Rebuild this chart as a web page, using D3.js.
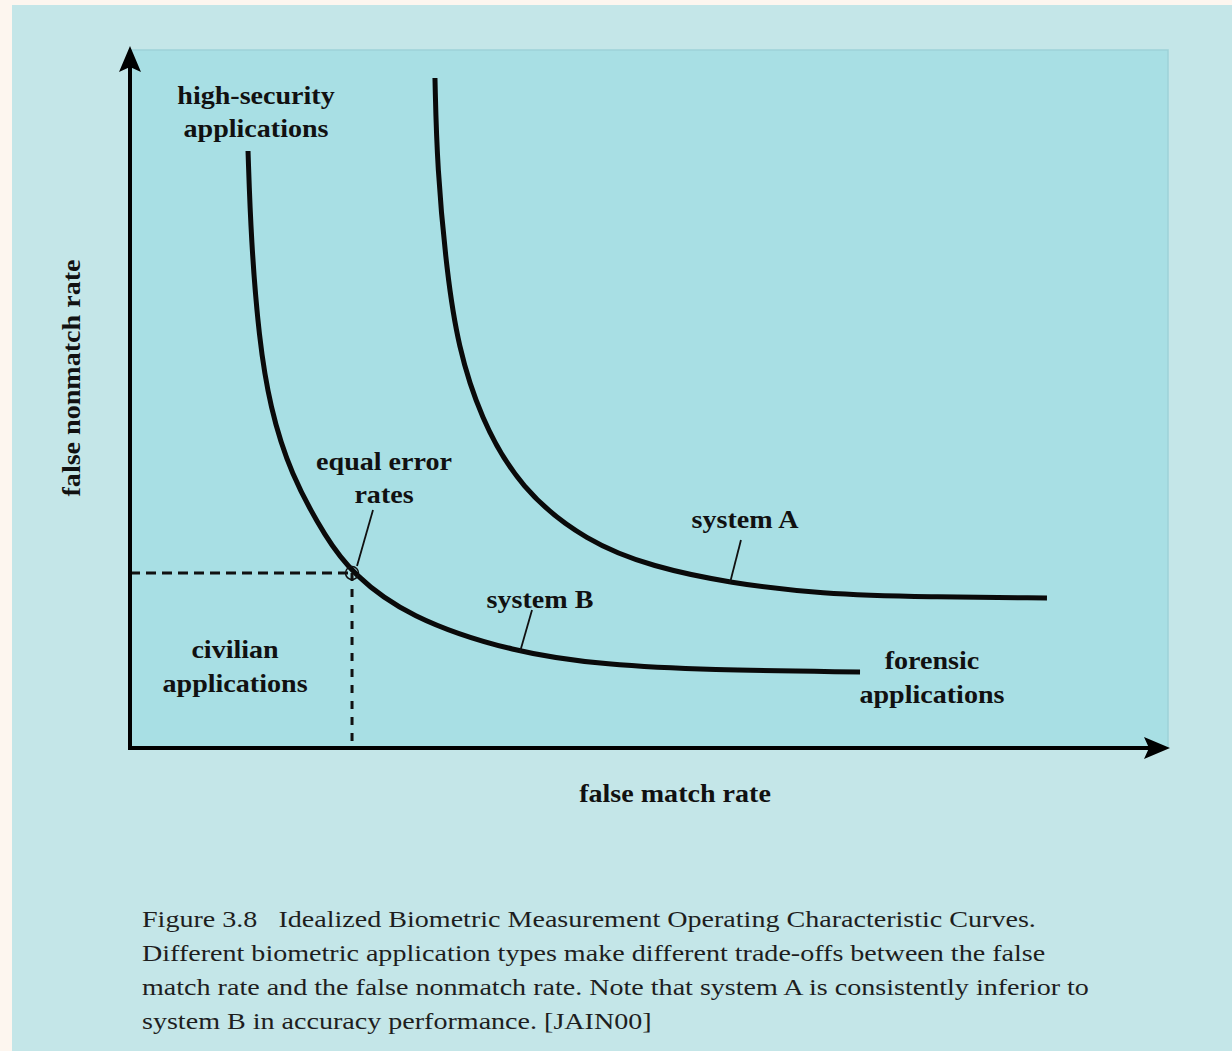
<!DOCTYPE html>
<html>
<head>
<meta charset="utf-8">
<script src="https://cdn.jsdelivr.net/npm/d3@7"></script>
<style>
  body { margin: 0; background: #fdf6ef; }
  svg { display: block; }
  .lbl { font-family: "Liberation Serif", "Times New Roman", serif; font-weight: bold; font-size: 26px; fill: #111; }
  .cap { font-family: "Liberation Serif", "Times New Roman", serif; font-size: 23.5px; fill: #1e1e1e; }
</style>
</head>
<body>
<div id="vis"></div>
<script>
const FRAME_WIDTH = 1232;
const FRAME_HEIGHT = 1051;
const PLOT = {left: 130, right: 1168, top: 50, bottom: 748};

// curves (0-100 arbitrary rate units)
const systemB_fmr  = [11.37, 11.66, 12.43, 13.49, 15.41, 18.98, 21.39, 26.69, 37.09, 45.95, 55.59, 70.33];
const systemB_fnmr = [85.53, 72.78, 58.45, 48.85, 39.40, 29.80, 25.07, 18.77, 13.61, 11.89, 11.17, 10.89];
const systemA_fmr  = [29.38, 29.58, 30.54, 31.60, 33.72, 37.57, 44.03, 50.39, 57.80, 66.47, 77.07, 88.34];
const systemA_fnmr = [95.99, 83.24, 67.91, 57.59, 47.42, 37.11, 29.51, 25.93, 23.64, 22.06, 21.63, 21.49];
const eer = [21.39, 25.07];

const xLabel = "false match rate";
const yLabel = "false nonmatch rate";
const captionLines = [
  "Figure 3.8\u2002 Idealized Biometric Measurement Operating Characteristic Curves.",
  "Different biometric application types make different trade-offs between the false",
  "match rate and the false nonmatch rate. Note that system A is consistently inferior to",
  "system B in accuracy performance. [JAIN00]"
];

const LBL_STRETCH = 1.08;
const CAP_STRETCH = 1.195;

const svg = d3.select("#vis")
  .append("svg")
    .attr("width", FRAME_WIDTH)
    .attr("height", FRAME_HEIGHT);

const X_SCALE = d3.scaleLinear().domain([0, 100]).range([PLOT.left, PLOT.right]);
const Y_SCALE = d3.scaleLinear().domain([0, 100]).range([PLOT.bottom, PLOT.top]);

// panels
svg.append("rect")
  .attr("x", 12).attr("y", 5)
  .attr("width", FRAME_WIDTH - 12).attr("height", FRAME_HEIGHT - 5)
  .attr("fill", "#c4e6e8");

svg.append("rect")
  .attr("x", PLOT.left).attr("y", PLOT.top)
  .attr("width", PLOT.right - PLOT.left).attr("height", PLOT.bottom - PLOT.top)
  .attr("fill", "#a8dfe4");
svg.append("path")
  .attr("d", `M${PLOT.left},${PLOT.top}H${PLOT.right}V${PLOT.bottom}`)
  .attr("fill", "none").attr("stroke", "#9dd2d7").attr("stroke-width", 1.5);

// dashed guides to the equal error point
svg.append("line")
  .attr("x1", X_SCALE(0)).attr("x2", X_SCALE(eer[0]))
  .attr("y1", Y_SCALE(eer[1])).attr("y2", Y_SCALE(eer[1]))
  .attr("stroke", "#111").attr("stroke-width", 3).attr("stroke-dasharray", "10,6");
svg.append("line")
  .attr("x1", X_SCALE(eer[0])).attr("x2", X_SCALE(eer[0]))
  .attr("y1", Y_SCALE(eer[1])).attr("y2", Y_SCALE(0))
  .attr("stroke", "#111").attr("stroke-width", 3).attr("stroke-dasharray", "8,8");

// curves
const line = d3.line()
  .x((d) => X_SCALE(d[0]))
  .y((d) => Y_SCALE(d[1]))
  .curve(d3.curveBasis);

[[systemB_fmr, systemB_fnmr], [systemA_fmr, systemA_fnmr]].forEach(([xs, ys]) => {
  svg.append("path")
    .datum(d3.zip(xs, ys))
    .attr("d", line)
    .attr("fill", "none")
    .attr("stroke", "#0a0a0a")
    .attr("stroke-width", 5);
});

svg.append("circle")
  .attr("cx", X_SCALE(eer[0])).attr("cy", Y_SCALE(eer[1]))
  .attr("r", 6.5)
  .attr("fill", "none").attr("stroke", "#111").attr("stroke-width", 1.5);

// axes with arrows
svg.append("line")
  .attr("x1", X_SCALE(0)).attr("y1", Y_SCALE(0))
  .attr("x2", X_SCALE(0)).attr("y2", PLOT.top + 10)
  .attr("stroke", "#000").attr("stroke-width", 4);
svg.append("line")
  .attr("x1", X_SCALE(0) - 2).attr("y1", Y_SCALE(0))
  .attr("x2", PLOT.right - 10).attr("y2", Y_SCALE(0))
  .attr("stroke", "#000").attr("stroke-width", 4);
svg.append("path")
  .attr("d", `M${X_SCALE(0)},${PLOT.top - 4}L${X_SCALE(0) + 11},${PLOT.top + 22}L${X_SCALE(0)},${PLOT.top + 17}L${X_SCALE(0) - 11},${PLOT.top + 22}Z`)
  .attr("fill", "#000");
svg.append("path")
  .attr("d", `M${PLOT.right + 2},${Y_SCALE(0)}L${PLOT.right - 24},${Y_SCALE(0) + 11}L${PLOT.right - 19},${Y_SCALE(0)}L${PLOT.right - 24},${Y_SCALE(0) - 11}Z`)
  .attr("fill", "#000");

// leader lines
const leaders = [
  [[23.41, 34.10], [21.87, 26.07]],
  [[58.86, 29.80], [57.80, 23.64]],
  [[38.73, 19.77], [37.57, 13.75]]
];
leaders.forEach(([a, b]) => {
  svg.append("line")
    .attr("x1", X_SCALE(a[0])).attr("y1", Y_SCALE(a[1]))
    .attr("x2", X_SCALE(b[0])).attr("y2", Y_SCALE(b[1]))
    .attr("stroke", "#111").attr("stroke-width", 1.8);
});

// annotation labels
const notes = [
  ["high-security", 12.14, 92.26],
  ["applications", 12.14, 87.54],
  ["equal error", 24.47, 39.83],
  ["rates", 24.47, 35.10],
  ["system A", 59.25, 31.52],
  ["system B", 39.50, 20.06],
  ["civilian", 10.12, 12.89],
  ["applications", 10.12, 8.02],
  ["forensic", 77.26, 11.32],
  ["applications", 77.26, 6.45]
];
svg.selectAll(".note")
  .data(notes)
  .enter()
  .append("text")
    .attr("class", "lbl note")
    .attr("transform", (d) => `translate(${X_SCALE(d[1])},${Y_SCALE(d[2])}) scale(${LBL_STRETCH},1)`)
    .attr("text-anchor", "middle")
    .text((d) => d[0]);

// axis titles
svg.append("text")
  .attr("class", "lbl")
  .attr("transform", `translate(675,802) scale(${LBL_STRETCH},1)`)
  .attr("text-anchor", "middle")
  .text(xLabel);
svg.append("text")
  .attr("class", "lbl")
  .attr("transform", `translate(80,378) rotate(-90) scale(${LBL_STRETCH},1)`)
  .attr("text-anchor", "middle")
  .text(yLabel);

// caption
svg.selectAll(".cap")
  .data(captionLines)
  .enter()
  .append("text")
    .attr("class", "cap")
    .attr("transform", (d, i) => `translate(142,${927 + i * 34}) scale(${CAP_STRETCH},1)`)
    .attr("xml:space", "preserve")
    .text((d) => d);
</script>
</body>
</html>
